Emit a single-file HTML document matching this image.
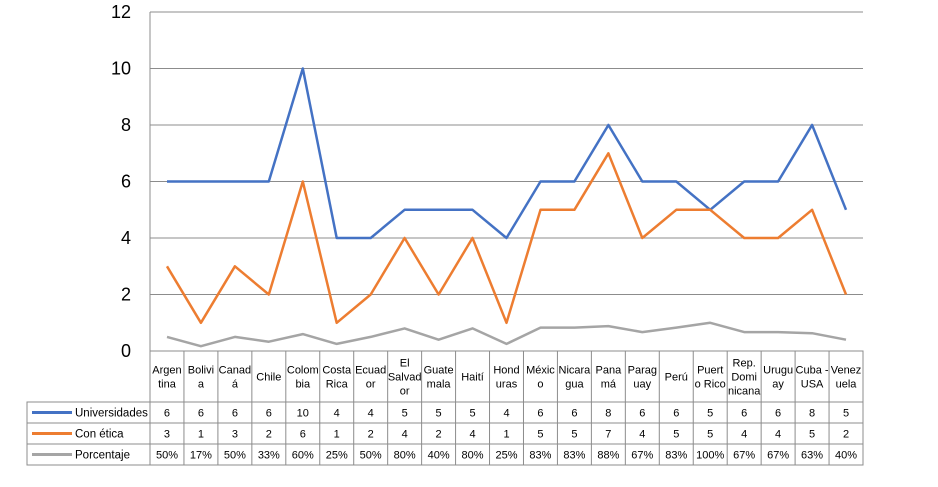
<!DOCTYPE html>
<html><head><meta charset="utf-8">
<style>
html,body{margin:0;padding:0;background:#fff;}
svg{display:block;font-family:"Liberation Sans",Calibri,sans-serif;}
</style></head>
<body>
<svg id="chart" width="938" height="487" viewBox="0 0 938 487" xmlns="http://www.w3.org/2000/svg"></svg>
<script>
const categories = ["Argen|tina","Bolivi|a","Canad|á","Chile","Colom|bia","Costa|Rica","Ecuad|or","El|Salvad|or","Guate|mala","Haití","Hond|uras","Méxic|o","Nicara|gua","Pana|má","Parag|uay","Perú","Puert|o Rico","Rep.|Domi|nicana","Urugu|ay","Cuba -|USA","Venez|uela"];
const universidades = [6,6,6,6,10,4,4,5,5,5,4,6,6,8,6,6,5,6,6,8,5];
const conEtica = [3,1,3,2,6,1,2,4,2,4,1,5,5,7,4,5,5,4,4,5,2];
const porcentaje = [50,17,50,33,60,25,50,80,40,80,25,83,83,88,67,83,100,67,67,63,40];
const yTicks = [0,2,4,6,8,10,12];
const seriesNames = ["Universidades","Con ética","Porcentaje"];

const svg = document.getElementById('chart');
const NS = "http://www.w3.org/2000/svg";
const X0 = 150, X1 = 863, Y0 = 351, Y1 = 12, YMAX = 12;
const colW = (X1 - X0) / categories.length;
const xs = i => X0 + colW * (i + 0.5);
const ys = v => Y0 - (v / YMAX) * (Y0 - Y1);
function mk(tag, attrs, parent) {
  const e = document.createElementNS(NS, tag);
  for (const k in attrs) e.setAttribute(k, attrs[k]);
  (parent || svg).appendChild(e);
  return e;
}

// gridlines + y labels
yTicks.forEach(t => {
  const g = mk('line', {x1: X0, x2: X1, y1: ys(t), y2: ys(t), stroke: '#8c8c8c', 'stroke-width': 1});
  
  
  const l = mk('text', {x: 131, y: ys(t) + 6, 'text-anchor': 'end', 'font-size': 18, fill: '#000'});
  l.textContent = t;
  
  
});
const ax = mk('line', {x1: X0, x2: X0, y1: Y1, y2: Y0, stroke: '#8c8c8c', 'stroke-width': 1});



// table
const TL = 27, R1 = 402, RH = 21;
const tbl = mk('g', {});


const st = {stroke: '#8c8c8c', 'stroke-width': 1, fill: 'none'};
mk('rect', Object.assign({x: X0, y: Y0, width: X1 - X0, height: R1 - Y0}, st), tbl);
mk('rect', Object.assign({x: TL, y: R1, width: X1 - TL, height: RH * 3}, st), tbl);
for (let r = 1; r < 3; r++) mk('line', Object.assign({x1: TL, x2: X1, y1: R1 + RH * r, y2: R1 + RH * r}, st), tbl);
for (let i = 0; i <= categories.length; i++) mk('line', Object.assign({x1: X0 + colW * i, x2: X0 + colW * i, y1: Y0, y2: R1 + RH * 3}, st), tbl);

categories.forEach((c, i) => {
  const lines = c.split('|');
  const t = mk('text', {x: xs(i), 'text-anchor': 'middle', 'font-size': 11, fill: '#000'}, tbl);
  
  
  const mid = (Y0 + R1) / 2, lh = 14;
  lines.forEach((ln, k) => {
    const ts = mk('tspan', {x: xs(i), y: mid + 4 + (k - (lines.length - 1) / 2) * lh}, t);
    ts.textContent = ln;
  });
});

const colors = ['#4472c4', '#ed7d31', '#a5a5a5'];
const data = [universidades, conEtica, porcentaje];
const fmt = [v => v, v => v, v => v + '%'];
data.forEach((arr, s) => {
  const ry = R1 + RH * s + RH / 2;
  const lk = mk('line', {x1: 32, x2: 72, y1: ry, y2: ry, stroke: colors[s], 'stroke-width': 3}, tbl);
  
  
  const lt = mk('text', {x: 75, y: ry + 4, 'font-size': 11.5, fill: '#000'}, tbl);
  lt.textContent = seriesNames[s];
  
  
  arr.forEach((v, i) => {
    const c = mk('text', {x: xs(i), y: ry + 4, 'text-anchor': 'middle', 'font-size': 11, fill: '#000'}, tbl);
    c.textContent = fmt[s](v);
    
    
  });
});

// series lines
const plotVals = [universidades, conEtica, porcentaje.map(p => p / 100)];
plotVals.forEach((arr, s) => {
  const pts = arr.map((v, i) => xs(i).toFixed(1) + ',' + ys(v).toFixed(1)).join(' ');
  const pl = mk('polyline', {points: pts, fill: 'none', stroke: colors[s], 'stroke-width': 2.5, 'stroke-linejoin': 'round'});
  
  
});
</script>
</body></html>
